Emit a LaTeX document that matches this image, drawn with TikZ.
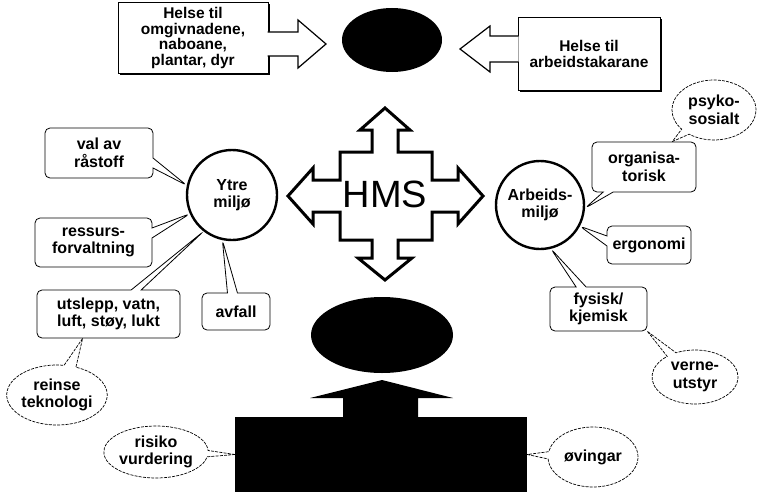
\documentclass[tikz,border=0pt]{standalone}
\usepackage{fontspec}
\setmainfont{Liberation Sans}
\usetikzlibrary{shapes.geometric,shapes.callouts,calc,shadows}
\begin{document}
\begin{tikzpicture}[x=1pt,y=-1pt,
  txt/.style={font=\bfseries\fontsize{16}{17.5}\selectfont, align=center, text=black},
  rcall/.style={rectangle callout, draw=black, line width=0.8pt, fill=white, rounded corners=5pt, txt, inner sep=0pt, callout pointer width=10pt},
  ecall/.style={ellipse callout, draw=black, line width=0.7pt, dash pattern=on 3pt off 1.2pt, fill=white, txt, inner sep=0pt, callout pointer arc=14},
  topbox/.style={rectangle, draw=black, line width=1pt, fill=white, txt, font=\bfseries\fontsize{15.5}{15.5}\selectfont, inner sep=0pt, drop shadow={shadow xshift=1.5pt, shadow yshift=-1.5pt, opacity=1, fill=black}},
  hollow/.style={draw=black, line width=1.2pt, fill=white, line join=miter},
  ring/.style={circle, draw=black, line width=2.4pt, fill=white, txt, inner sep=0pt, minimum size=90pt},
  blackshape/.style={fill=black, inner sep=0pt}
]
\useasboundingbox (0,0) rectangle (757,495);

% top row
\node[topbox, minimum width=150pt, minimum height=70pt] (tl) at (193,38) {Helse til\\omgivnadene,\\naboane,\\plantar, dyr};
\node[topbox, minimum width=142pt, minimum height=72pt] (tr) at (589,54) {Helse til\\arbeidstakarane};
\node[ellipse, blackshape, minimum width=100pt, minimum height=64pt] (top) at (392,40) {};
\draw[hollow] ($(tl.east |- 0,32)+(-1,0)$) -- (298,32) -- (298,20) -- (326,44) -- (298,68) -- (298,56) -- ($(tl.east |- 0,56)+(-1,0)$);
\draw[hollow] ($(tr.west |- 0,36)+(1,0)$) -- (490,36) -- (490,26) -- (460,49) -- (490,72) -- (490,62) -- ($(tr.west |- 0,62)+(1,0)$);

% HMS cross
\draw[line width=3pt, fill=white, line join=miter]
  (385,108) -- (410,130) -- (398,130) -- (398,152) -- (432,152) -- (432,180) -- (458,180) -- (458,168) -- (483,196) -- (458,224) -- (458,212) -- (432,212) -- (432,240) -- (398,240) -- (398,258) -- (412,258) -- (385,280) -- (358,258) -- (372,258) -- (372,240) -- (340,240) -- (340,212) -- (313,212) -- (313,224) -- (288,196) -- (313,168) -- (313,180) -- (340,180) -- (340,152) -- (372,152) -- (372,130) -- (360,130) -- cycle;
\node[font=\fontsize{38}{40}\selectfont] (hms) at (385,194) {HMS};

% circles
\node[ring] (ytre) at (232,195) {Ytre\\miljø};
\node[ring, minimum size=88pt] (arb) at (540,205) {Arbeids-\\miljø};

% bottom
\node[ellipse, blackshape, minimum width=142pt, minimum height=76pt] (mid) at (382,335) {};
\node[rectangle, blackshape, minimum width=292pt, minimum height=75pt] (plan) at (381,454.5) {};
\fill[black] (plan.north -| 343,0) -- (343,398) -- (310,398) -- (382,380) -- (453,398) -- (418,398) -- (plan.north -| 418,0) -- cycle;

% left callouts
\node[rcall, minimum width=108pt, minimum height=50pt, callout absolute pointer={(ytre.168)}] (val) at (99,153) {val av\\råstoff};
\node[rcall, minimum width=117pt, minimum height=49pt, callout absolute pointer={(ytre.204)}] (res) at (93.5,242.5) {ressurs-\\forvaltning};
\node[rcall, minimum width=143pt, minimum height=48pt, callout absolute pointer={(ytre.232)}] (uts) at (108.5,314) {utslepp, vatn,\\luft, støy, lukt};
\node[rcall, minimum width=68pt, minimum height=37pt, callout absolute pointer={(ytre.258)}] (avf) at (236,311.5) {avfall};
\coordinate (reitip) at ($(uts.south west)!0.32!(uts.south east)$);
\node[ecall, minimum width=90pt, minimum height=60pt, callout absolute pointer={(reitip)}] (rei) at (57,395) {reinse\\teknologi};
\node[ecall, minimum width=96pt, minimum height=52pt, callout absolute pointer={(plan.west)}] (ris) at (156,452) {risiko\\vurdering};

% right callouts
\node[rcall, minimum width=104pt, minimum height=50pt, callout absolute pointer={(arb.356)}] (org) at (644,167) {organisa-\\torisk};
\coordinate (psytip) at ($(org.north west)!0.77!(org.north east)$);
\node[ecall, minimum width=84pt, minimum height=60pt, callout absolute pointer={(psytip)}] (psy) at (714,110) {psyko-\\sosialt};
\node[rcall, minimum width=84pt, minimum height=38pt, callout absolute pointer={(arb.332)}] (erg) at (649,245) {ergonomi};
\node[rcall, minimum width=97pt, minimum height=44pt, callout absolute pointer={(arb.284)}] (fys) at (598.5,309) {fysisk/\\kjemisk};
\node[ecall, minimum width=86pt, minimum height=54pt, callout absolute pointer={(fys.south east)}] (ver) at (695,377) {verne-\\utstyr};
\node[ecall, minimum width=90pt, minimum height=60pt, callout absolute pointer={(plan.east)}] (ovi) at (593,457) {øvingar};
\end{tikzpicture}
\end{document}
